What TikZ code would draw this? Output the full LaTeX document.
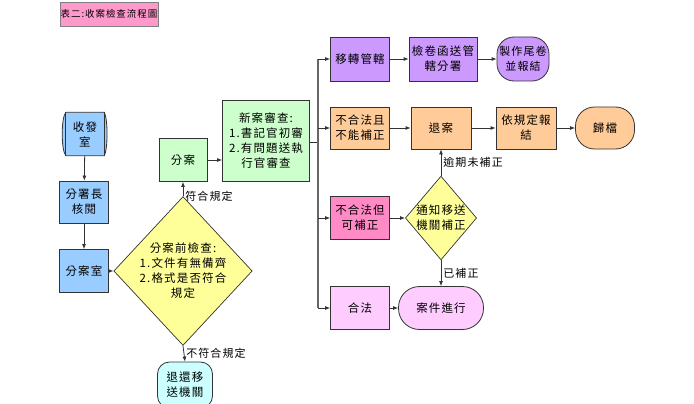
\documentclass[tikz,border=0pt]{standalone}
\usepackage{fontspec}
\setmainfont{Noto Sans CJK TC}[LetterSpace=10]
\usetikzlibrary{shapes.geometric,arrows.meta}
\definecolor{cblue}{HTML}{99CCFF}
\definecolor{cgreen}{HTML}{CCFFCC}
\definecolor{cyel}{HTML}{FFFF99}
\definecolor{ccyan}{HTML}{CCFFFF}
\definecolor{cpur}{HTML}{CC99FF}
\definecolor{corg}{HTML}{FFCC99}
\definecolor{cpink}{HTML}{FF8AC6}
\definecolor{clpink}{HTML}{FFCCFF}
\definecolor{ctitle}{HTML}{FF99CC}
\definecolor{cline}{HTML}{333333}
\tikzset{
  every node/.style={font=\fontsize{11.5}{15}\selectfont, inner sep=0pt, align=center},
  boxn/.style={draw=cline, line width=0.8pt, minimum width=#1},
  boxn/.default=59pt,
  term/.style={draw=cline, line width=0.8pt, rounded corners=#1},
  arr/.style={draw=cline, line width=0.8pt, -{Latex[length=5pt,width=4pt]}},
  ln/.style={draw=cline, line width=0.8pt},
  lab/.style={anchor=west, font=\fontsize{11}{12}\selectfont},
}
\begin{document}
\begin{tikzpicture}[x=1pt,y=-1pt]
\useasboundingbox (0,0) rectangle (694,404);
% title
\node[draw=gray, fill=ctitle, minimum width=98pt, minimum height=24pt, line width=0.8pt, font=\fontsize{9.5}{12}\selectfont] (title) at (109,14) {表二:收案檢查流程圖};
% left column
\node[minimum width=38pt, minimum height=43pt] (sfs) at (85,134) {\phantom{收發}};
\filldraw[fill=cblue, draw=cline, line width=0.8pt]
  (sfs.north west) -- (sfs.north east) .. controls (108,118) and (108,150) .. (sfs.south east)
  -- (sfs.south west) .. controls (61,150) and (61,118) .. (sfs.north west) -- cycle;
\draw[cline, line width=0.8pt] (sfs.north west) -- (sfs.south west) (sfs.north east) -- (sfs.south east);
\node (sfst) at (sfs) {收發\\室};
\node[boxn=49pt, fill=cblue, minimum height=42pt] (fsz) at (84,202) {分署長\\核閱};
\node[boxn=49pt, fill=cblue, minimum height=43pt] (fas) at (84,271) {分案室};
\node[draw=cline, line width=0.7pt, fill=cyel, diamond, minimum width=127pt, minimum height=137pt, aspect=0.93] (d1) at (183,271) {分案前檢查:\\1.文件有無備齊\\2.格式是否符合\\規定};
\node[boxn=48pt, fill=cgreen, minimum height=43pt] (fa) at (183,160) {分案};
\node[term=12pt, fill=ccyan, minimum width=55pt, minimum height=46pt] (th) at (185,385) {退還移\\送機關};
\node[boxn=87pt, fill=cgreen, minimum height=81pt] (xa) at (266,141) {新案審查:\\1.書記官初審\\2.有問題送執\\行官審查};
% right blocks
\node[boxn=59pt, fill=cpur, minimum height=44pt] (yz) at (360,59) {移轉管轄};
\node[boxn=68pt, fill=cpur, minimum height=44pt] (jj) at (443,59) {檢卷函送管\\轄分署};
\node[term=17pt, fill=cpur, minimum width=52pt, minimum height=44pt, font=\fontsize{11}{15}\selectfont] (zz) at (523,59) {製作尾卷\\並報結};
\node[boxn=59pt, fill=corg, minimum height=42pt] (bh) at (360,128) {不合法且\\不能補正};
\node[boxn=60pt, fill=corg, minimum height=42pt] (ta) at (441,128) {退案};
\node[boxn=60pt, fill=corg, minimum height=42pt] (yg) at (526,128) {依規定報\\結};
\node[term=19pt, fill=corg, minimum width=59pt, minimum height=42pt] (gd) at (605,128) {歸檔};
\node[boxn=59pt, fill=cpink, minimum height=43pt] (kb) at (360,218) {不合法但\\可補正};
\node[draw=cline, line width=0.7pt, fill=cyel, diamond, minimum width=71pt, minimum height=83pt, aspect=0.85] (d2) at (441,218) {通知移送\\機關補正};
\node[boxn=59pt, fill=clpink, minimum height=43pt] (hf) at (360,308) {合法};
\node[term=21pt, fill=clpink, minimum width=85pt, minimum height=43pt] (aj) at (441,308) {案件進行};
% connectors
\draw[arr] (sfs) -- (fsz);
\draw[arr] (fsz) -- (fas);
\draw[arr] (fas) -- (d1.west);
\draw[arr] (d1.north) -- (fa.south) node[lab, pos=0.3, xshift=2pt, yshift=-4pt] {符合規定};
\draw[arr] (d1.south) -- (th.north) node[lab, pos=0.45, xshift=2pt] {不符合規定};
\draw[arr] (fa.east) -- (fa.east -| xa.west);
\coordinate (bus) at (318,142);
\draw[ln] (xa.east |- bus) -- (bus);
\draw[draw=gray!80!black, line width=1.6pt] (bus |- yz.west) -- (bus |- hf.west);
\draw[arr] (bus |- yz.west) -- (yz.west);
\draw[arr] (bus |- bh.west) -- (bh.west);
\draw[arr] (bus |- kb.west) -- (kb.west);
\draw[arr] (bus |- hf.west) -- (hf.west);
\draw[arr] (yz) -- (jj);
\draw[arr] (jj) -- (zz);
\draw[arr] (bh) -- (ta);
\draw[arr] (ta) -- (yg);
\draw[arr] (yg) -- (gd);
\draw[arr] (kb) -- (d2.west);
\draw[arr] (d2.north) -- (ta.south) node[lab, midway, xshift=2pt] {逾期未補正};
\draw[arr] (d2.south) -- (aj.north) node[lab, midway, xshift=2pt] {已補正};
\draw[arr] (hf) -- (aj);
\end{tikzpicture}
\end{document}
